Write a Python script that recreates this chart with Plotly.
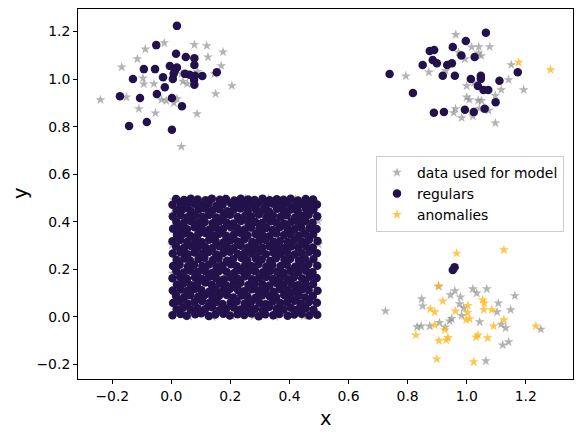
import plotly.graph_objects as go

# training data (gray stars) - clusters
train_tl_x = [-0.024, -0.088, 0.078, 0.120, 0.175, -0.115, 0.124, -0.168, 0.169, -0.096, 0.089, 0.034,
              0.146, -0.093, -0.059, 0.039, 0.054, 0.205, -0.240, -0.152, -0.033, -0.017, 0.019, 0.009,
              0.150, -0.110, -0.054, 0.087, 0.034]
train_tl_y = [1.152, 1.126, 1.145, 1.140, 1.114, 1.085, 1.093, 1.050, 1.056, 1.004, 1.032, 1.022,
              1.022, 0.979, 0.980, 0.990, 0.980, 0.972, 0.913, 0.924, 0.913, 0.909, 0.917, 0.900,
              0.938, 0.875, 0.857, 0.854, 0.716]
train_tr_x = [0.963, 1.017, 1.041, 1.078, 0.973, 0.994, 1.040, 1.049, 1.151, 0.872, 0.929, 0.794,
              1.142, 1.000, 1.025, 1.117, 1.193, 1.000, 1.009, 1.039, 1.050, 1.097, 0.962, 0.956,
              1.043, 1.074, 0.983, 1.021, 1.097]
train_tr_y = [1.187, 1.135, 1.136, 1.136, 1.112, 1.085, 1.109, 1.098, 1.060, 1.029, 1.035, 1.013,
              0.997, 0.971, 0.986, 0.955, 0.955, 0.924, 0.913, 0.910, 0.909, 0.930, 0.875, 0.858,
              0.876, 0.868, 0.837, 0.844, 0.815]
train_br_x = [0.905, 1.021, 1.068, 0.960, 0.945, 1.034, 1.163, 0.848, 0.979, 0.851, 0.976, 1.107,
              0.725, 0.990, 1.103, 1.149, 0.983, 0.949, 0.942, 1.044, 0.908, 0.832, 0.846, 0.875,
              0.927, 1.117, 1.132, 1.251, 1.122, 1.142, 1.065]
train_br_y = [0.127, 0.117, 0.117, 0.109, 0.092, 0.099, 0.088, 0.075, 0.083, 0.045, 0.054, 0.057,
              0.024, 0.036, 0.020, 0.029, 0.005, -0.008, -0.018, -0.022, -0.025, -0.043, -0.040, -0.040,
              -0.044, -0.032, -0.047, -0.053, -0.119, -0.106, -0.186]
# training data inside the square (mostly hidden behind regulars)
train_sq_x = [0.008, 0.003, 0.002, 0.004, 0.060, 0.140, 0.205, 0.280, 0.352, 0.448, 0.498, 0.497,
              0.250, 0.180, 0.330, 0.420, 0.120, 0.072, 0.262, 0.305, 0.398, 0.455, 0.160, 0.228,
              0.365, 0.043, 0.488, 0.012, 0.215, 0.312, 0.095, 0.438, 0.475, 0.150, 0.268, 0.392,
              0.028, 0.110, 0.195, 0.236, 0.341, 0.407, 0.062, 0.173, 0.289, 0.462, 0.084, 0.356]
train_sq_y = [0.492, 0.431, 0.302, 0.182, 0.001, 0.000, 0.002, 0.003, 0.001, 0.002, 0.305, 0.402,
              0.497, 0.498, 0.496, 0.494, 0.381, 0.412, 0.356, 0.205, 0.122, 0.253, 0.182, 0.138,
              0.300, 0.238, 0.060, 0.090, 0.430, 0.074, 0.283, 0.180, 0.470, 0.058, 0.114, 0.445,
              0.326, 0.171, 0.352, 0.061, 0.226, 0.389, 0.123, 0.257, 0.434, 0.141, 0.465, 0.018]

# regulars (purple circles) - clusters
reg_tl_x = [0.019, -0.051, 0.016, 0.049, 0.078, 0.078, -0.005, 0.019, -0.093, -0.055, 0.012, 0.008,
            0.046, 0.062, 0.080, 0.105, 0.154, -0.130, -0.028, 0.005, 0.077, 0.078, -0.022, -0.049,
            -0.174, -0.106, 0.002, 0.036, -0.143, -0.083, 0.002]
reg_tl_y = [1.224, 1.143, 1.107, 1.093, 1.088, 1.059, 1.055, 1.049, 1.042, 1.042, 1.036, 1.022,
            1.022, 1.018, 1.014, 1.013, 1.029, 1.000, 1.008, 1.000, 0.997, 0.976, 0.966, 0.937,
            0.928, 0.920, 0.920, 0.886, 0.803, 0.819, 0.787]
reg_tr_x = [1.065, 0.997, 0.953, 0.875, 0.890, 0.982, 1.027, 0.885, 0.899, 0.851, 0.934, 0.950,
            0.739, 0.919, 0.960, 1.173, 1.048, 1.048, 1.014, 1.111, 1.038, 1.057, 1.073, 0.818,
            1.098, 0.889, 0.923, 0.994, 1.024, 1.061]
reg_tr_y = [1.195, 1.160, 1.135, 1.118, 1.122, 1.099, 1.093, 1.080, 1.067, 1.059, 1.059, 1.067,
            1.021, 1.014, 1.014, 1.029, 1.014, 1.001, 1.000, 0.993, 0.971, 0.954, 0.954, 0.942,
            0.903, 0.858, 0.862, 0.871, 0.862, 0.875]
reg_br_x = [0.959, 0.953]
reg_br_y = [0.208, 0.197]

# regulars in the square, row by row
square_x = [
    0.004, 0.031, 0.052, 0.081, 0.101, 0.127, 0.149, 0.176, 0.198, 0.224, 0.247, 0.271, 0.296, 0.318, 0.345, 0.366, 0.394, 0.416, 0.441, 0.467, 0.494,
    0.018, 0.040, 0.066, 0.089, 0.114, 0.138, 0.163, 0.186, 0.212, 0.235, 0.260, 0.283, 0.309, 0.331, 0.357, 0.380, 0.405, 0.429, 0.455, 0.481,
    0.006, 0.029, 0.055, 0.078, 0.104, 0.126, 0.152, 0.173, 0.201, 0.221, 0.249, 0.270, 0.298, 0.320, 0.343, 0.369, 0.392, 0.418, 0.439, 0.466, 0.493,
    0.016, 0.043, 0.064, 0.091, 0.113, 0.139, 0.161, 0.188, 0.210, 0.237, 0.258, 0.285, 0.307, 0.333, 0.355, 0.382, 0.404, 0.431, 0.453, 0.479,
    0.005, 0.032, 0.054, 0.079, 0.102, 0.129, 0.150, 0.175, 0.199, 0.226, 0.246, 0.272, 0.294, 0.319, 0.346, 0.367, 0.393, 0.417, 0.442, 0.465, 0.495,
    0.019, 0.041, 0.067, 0.088, 0.115, 0.137, 0.164, 0.185, 0.211, 0.234, 0.261, 0.282, 0.308, 0.332, 0.356, 0.379, 0.406, 0.428, 0.454, 0.480,
    0.004, 0.030, 0.053, 0.080, 0.103, 0.128, 0.151, 0.177, 0.200, 0.223, 0.248, 0.273, 0.297, 0.321, 0.344, 0.368, 0.395, 0.415, 0.443, 0.468, 0.492,
    0.017, 0.042, 0.065, 0.090, 0.116, 0.140, 0.162, 0.187, 0.213, 0.236, 0.259, 0.284, 0.310, 0.334, 0.358, 0.381, 0.403, 0.430, 0.456, 0.478,
    0.006, 0.028, 0.056, 0.077, 0.105, 0.127, 0.153, 0.174, 0.202, 0.222, 0.250, 0.271, 0.295, 0.322, 0.342, 0.370, 0.391, 0.419, 0.440, 0.464, 0.494,
    0.018, 0.044, 0.063, 0.092, 0.112, 0.141, 0.160, 0.189, 0.209, 0.238, 0.257, 0.286, 0.306, 0.335, 0.354, 0.383, 0.402, 0.432, 0.452, 0.481,
    0.005, 0.031, 0.055, 0.078, 0.104, 0.126, 0.152, 0.176, 0.198, 0.225, 0.249, 0.272, 0.296, 0.320, 0.345, 0.369, 0.392, 0.418, 0.441, 0.467, 0.493,
    0.016, 0.043, 0.066, 0.089, 0.114, 0.139, 0.163, 0.188, 0.211, 0.235, 0.260, 0.283, 0.309, 0.333, 0.357, 0.380, 0.405, 0.429, 0.455, 0.479,
    0.004, 0.030, 0.054, 0.081, 0.102, 0.128, 0.150, 0.177, 0.200, 0.224, 0.247, 0.274, 0.297, 0.319, 0.346, 0.368, 0.394, 0.416, 0.442, 0.466, 0.495,
    0.019, 0.041, 0.064, 0.091, 0.115, 0.138, 0.161, 0.186, 0.212, 0.237, 0.258, 0.285, 0.308, 0.332, 0.356, 0.382, 0.404, 0.431, 0.453, 0.480,
    0.006, 0.029, 0.053, 0.079, 0.103, 0.129, 0.151, 0.175, 0.201, 0.223, 0.248, 0.270, 0.298, 0.321, 0.343, 0.367, 0.393, 0.417, 0.440, 0.468, 0.492,
    0.017, 0.042, 0.067, 0.090, 0.113, 0.140, 0.162, 0.187, 0.210, 0.236, 0.261, 0.284, 0.307, 0.334, 0.355, 0.381, 0.406, 0.430, 0.454, 0.478,
    0.005, 0.032, 0.055, 0.080, 0.104, 0.127, 0.152, 0.176, 0.199, 0.225, 0.250, 0.271, 0.296, 0.322, 0.344, 0.370, 0.391, 0.419, 0.443, 0.465, 0.494,
    0.018, 0.040, 0.065, 0.092, 0.114, 0.139, 0.163, 0.189, 0.211, 0.234, 0.259, 0.286, 0.310, 0.331, 0.358, 0.379, 0.405, 0.428, 0.456, 0.481,
    0.004, 0.031, 0.054, 0.078, 0.105, 0.126, 0.153, 0.174, 0.202, 0.224, 0.249, 0.273, 0.295, 0.320, 0.345, 0.369, 0.392, 0.418, 0.441, 0.467, 0.493,
    0.016, 0.043, 0.066, 0.089, 0.116, 0.137, 0.164, 0.185, 0.213, 0.235, 0.260, 0.282, 0.309, 0.333, 0.357, 0.380, 0.404, 0.429, 0.455, 0.480,
]
square_y = [
    0.006, 0.012, 0.004, 0.010, 0.015, 0.003, 0.009, 0.013, 0.005, 0.011, 0.007, 0.014, 0.002, 0.010, 0.006, 0.012, 0.004, 0.009, 0.013, 0.005, 0.008,
    0.031, 0.038, 0.029, 0.036, 0.032, 0.040, 0.027, 0.035, 0.039, 0.030, 0.037, 0.033, 0.028, 0.041, 0.034, 0.030, 0.038, 0.032, 0.036, 0.029,
    0.058, 0.064, 0.055, 0.061, 0.066, 0.057, 0.062, 0.054, 0.060, 0.065, 0.056, 0.063, 0.059, 0.053, 0.064, 0.058, 0.061, 0.067, 0.055, 0.062, 0.059,
    0.088, 0.082, 0.090, 0.084, 0.091, 0.083, 0.087, 0.092, 0.081, 0.089, 0.085, 0.080, 0.090, 0.086, 0.083, 0.092, 0.084, 0.088, 0.081, 0.087,
    0.110, 0.115, 0.108, 0.117, 0.111, 0.106, 0.114, 0.109, 0.118, 0.112, 0.107, 0.116, 0.110, 0.113, 0.105, 0.117, 0.111, 0.108, 0.115, 0.112, 0.109,
    0.136, 0.141, 0.133, 0.139, 0.144, 0.135, 0.140, 0.132, 0.138, 0.143, 0.134, 0.140, 0.137, 0.131, 0.142, 0.136, 0.139, 0.133, 0.141, 0.138,
    0.162, 0.167, 0.160, 0.166, 0.159, 0.168, 0.163, 0.157, 0.165, 0.161, 0.169, 0.158, 0.164, 0.167, 0.160, 0.163, 0.158, 0.166, 0.161, 0.168, 0.163,
    0.192, 0.186, 0.194, 0.188, 0.191, 0.185, 0.193, 0.189, 0.184, 0.195, 0.187, 0.191, 0.186, 0.193, 0.189, 0.184, 0.192, 0.188, 0.194, 0.187,
    0.214, 0.219, 0.211, 0.218, 0.213, 0.220, 0.210, 0.216, 0.221, 0.212, 0.217, 0.214, 0.222, 0.211, 0.218, 0.213, 0.219, 0.210, 0.216, 0.221, 0.215,
    0.240, 0.245, 0.237, 0.243, 0.248, 0.239, 0.244, 0.236, 0.242, 0.247, 0.238, 0.245, 0.241, 0.235, 0.246, 0.240, 0.243, 0.237, 0.245, 0.242,
    0.266, 0.271, 0.263, 0.270, 0.265, 0.272, 0.262, 0.268, 0.273, 0.264, 0.269, 0.266, 0.274, 0.263, 0.270, 0.265, 0.271, 0.262, 0.268, 0.273, 0.267,
    0.296, 0.290, 0.298, 0.292, 0.295, 0.289, 0.297, 0.293, 0.288, 0.299, 0.291, 0.295, 0.290, 0.297, 0.293, 0.288, 0.296, 0.292, 0.298, 0.291,
    0.318, 0.323, 0.316, 0.322, 0.315, 0.324, 0.319, 0.313, 0.321, 0.317, 0.325, 0.314, 0.320, 0.323, 0.316, 0.319, 0.314, 0.322, 0.317, 0.324, 0.319,
    0.344, 0.349, 0.341, 0.347, 0.352, 0.343, 0.348, 0.340, 0.346, 0.351, 0.342, 0.348, 0.345, 0.339, 0.350, 0.344, 0.347, 0.341, 0.349, 0.346,
    0.370, 0.375, 0.368, 0.377, 0.371, 0.366, 0.374, 0.369, 0.378, 0.372, 0.367, 0.376, 0.370, 0.373, 0.365, 0.377, 0.371, 0.368, 0.375, 0.372, 0.369,
    0.400, 0.394, 0.402, 0.396, 0.399, 0.393, 0.401, 0.397, 0.392, 0.403, 0.395, 0.399, 0.394, 0.401, 0.397, 0.392, 0.400, 0.396, 0.402, 0.395,
    0.422, 0.427, 0.419, 0.426, 0.421, 0.428, 0.418, 0.424, 0.429, 0.420, 0.425, 0.422, 0.430, 0.419, 0.426, 0.421, 0.427, 0.418, 0.424, 0.429, 0.423,
    0.448, 0.453, 0.445, 0.451, 0.456, 0.447, 0.452, 0.444, 0.450, 0.455, 0.446, 0.452, 0.449, 0.443, 0.454, 0.448, 0.451, 0.445, 0.453, 0.450,
    0.471, 0.476, 0.469, 0.475, 0.470, 0.477, 0.467, 0.473, 0.478, 0.469, 0.474, 0.471, 0.479, 0.468, 0.475, 0.470, 0.476, 0.467, 0.473, 0.478, 0.472,
    0.495, 0.491, 0.496, 0.493, 0.490, 0.497, 0.492, 0.495, 0.489, 0.496, 0.493, 0.491, 0.497, 0.490, 0.494, 0.492, 0.496, 0.489, 0.495, 0.493,
]

# anomalies (orange stars)
anom_x = [1.176, 1.284, 0.966, 1.126, 0.905, 0.919, 1.054, 1.060, 0.877, 0.892, 0.962, 1.004, 1.003,
          1.058, 1.085, 0.998, 1.010, 1.126, 0.892, 0.926, 1.091, 1.234, 0.828, 1.038, 1.032, 1.071,
          0.906, 0.931, 0.937, 0.899, 1.024]
anom_y = [1.070, 1.039, 0.267, 0.281, 0.130, 0.066, 0.071, 0.057, 0.033, 0.020, 0.024, 0.047, 0.017,
          0.029, 0.029, -0.013, -0.009, -0.013, -0.035, -0.055, -0.039, -0.039, -0.077, -0.077, -0.086,
          -0.089, -0.101, -0.098, -0.088, -0.178, -0.190]

train_x = train_sq_x + train_tl_x + train_tr_x + train_br_x
train_y = train_sq_y + train_tl_y + train_tr_y + train_br_y
reg_x = square_x + reg_tl_x + reg_tr_x + reg_br_x
reg_y = square_y + reg_tl_y + reg_tr_y + reg_br_y

fig = go.Figure()
fig.add_trace(go.Scatter(x=train_x, y=train_y, mode='markers', name='data used for model',
                         marker=dict(symbol='star', size=7.5, color='rgba(128,128,128,0.6)', line_width=0)))
fig.add_trace(go.Scatter(x=reg_x, y=reg_y, mode='markers', name='regulars',
                         marker=dict(symbol='circle', size=8.5, color='#22114b', line_width=0)))
fig.add_trace(go.Scatter(x=anom_x, y=anom_y, mode='markers', name='anomalies',
                         marker=dict(symbol='star', size=7.5, color='rgba(255,180,20,0.75)', line_width=0)))

axis_style = dict(showline=True, linecolor='black', linewidth=1, mirror=True, automargin=False,
                  ticks='outside', ticklen=4, tickcolor='black', showgrid=False, zeroline=False,
                  tickfont=dict(size=13.9, color='black'), dtick=0.2, tickformat='.1f')

# the page body adds an 8px offset, so the figure is a little smaller than the window
fig.update_layout(
    width=575, height=429,
    margin=dict(l=70, r=10, t=1, b=58),
    plot_bgcolor='white', paper_bgcolor='white',
    font=dict(family='DejaVu Sans', color='black'),
    showlegend=True,
    legend=dict(x=0.602, y=0.603, xanchor='left', yanchor='top',
                bordercolor='#cccccc', borderwidth=1, bgcolor='rgba(255,255,255,0.8)',
                font=dict(size=13.9, family='DejaVu Sans'), itemsizing='trace', tracegroupgap=0),
    annotations=[
        dict(text='x', xref='paper', yref='paper', x=0.5, y=0, yanchor='middle', yshift=-39,
             showarrow=False, font=dict(size=19.4)),
        dict(text='y', xref='paper', yref='paper', x=0, y=0.5, xanchor='center', xshift=-58,
             textangle=-90, showarrow=False, font=dict(size=19.4)),
    ],
)
fig.update_xaxes(range=[-0.316, 1.36], **axis_style)
fig.update_yaxes(range=[-0.262, 1.295], **axis_style)

fig.write_html("out.html")
